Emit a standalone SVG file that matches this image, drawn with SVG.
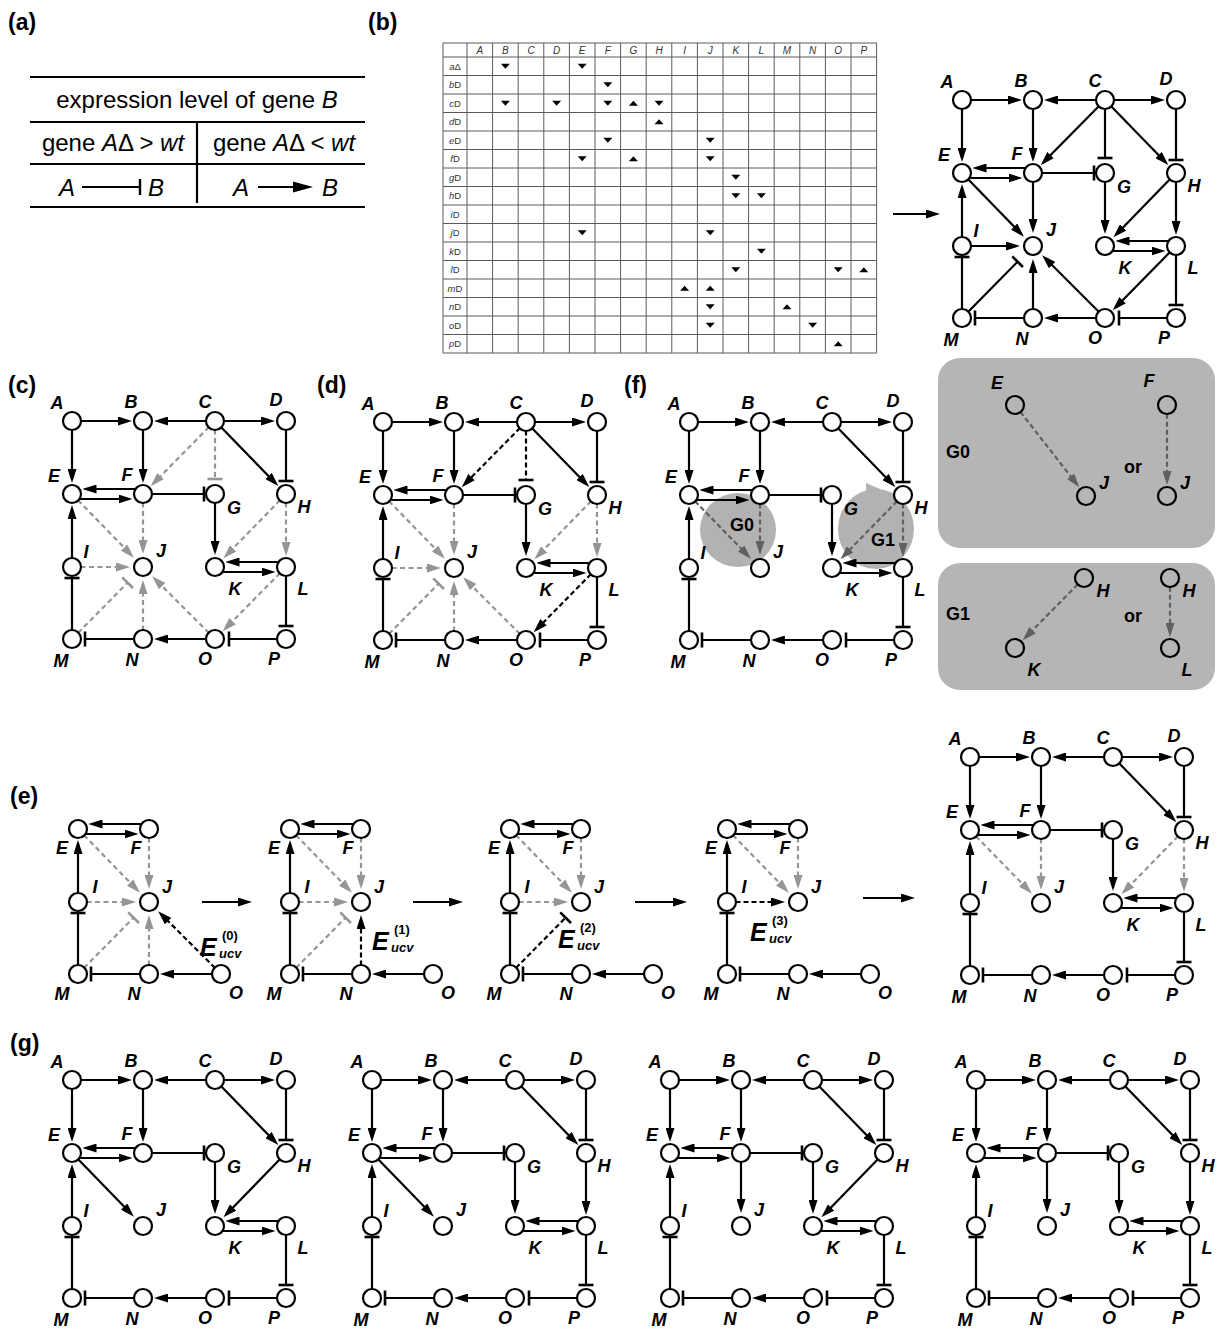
<svg xmlns="http://www.w3.org/2000/svg" width="1218" height="1329" viewBox="0 0 1218 1329">
<style>
text{font-family:"Liberation Sans",Arial,sans-serif;fill:#000}
.pl{font-size:23px;font-weight:bold}
.node circle{fill:#fff;stroke:#000;stroke-width:2.2}
.node text{font-size:18px;font-weight:bold;font-style:italic;text-anchor:middle}
.bx .node circle{fill:none}
.e line{stroke:#000;stroke-width:2.2;fill:none}
.e line.g{stroke:#959595;stroke-dasharray:5 3.5}
.e line.k{stroke-dasharray:5 3}
.e line.f{stroke:#606060;stroke-dasharray:5 3}
.tb{font-size:24px}
.rule{stroke:#000;stroke-width:2.2}
.grid{stroke:#5a5a5a;stroke-width:1;fill:none}
.ch{font-size:10px;font-style:italic;text-anchor:middle;fill:#333}
.rh{font-size:9.5px;text-anchor:middle;fill:#333}
.gl{font-size:18px;font-weight:bold;text-anchor:middle}
.eu{font-size:25px;font-weight:bold;font-style:italic}
.sup{font-size:13px;font-weight:bold}
.sub{font-size:13px;font-weight:bold;font-style:italic}
</style>
<defs>
<marker id="a" viewBox="0 0 14 9" refX="10" refY="4.5" markerWidth="14" markerHeight="9" markerUnits="userSpaceOnUse" orient="auto"><path d="M0,0L14,4.5L0,9z"/></marker>
<marker id="ag" viewBox="0 0 14 9" refX="10" refY="4.5" markerWidth="14" markerHeight="9" markerUnits="userSpaceOnUse" orient="auto"><path d="M0,0L14,4.5L0,9z" fill="#959595"/></marker>
<marker id="af" viewBox="0 0 14 9" refX="10" refY="4.5" markerWidth="14" markerHeight="9" markerUnits="userSpaceOnUse" orient="auto"><path d="M0,0L14,4.5L0,9z" fill="#606060"/></marker>
<marker id="t" viewBox="-2 -8 4 16" refX="0" refY="0" markerWidth="4" markerHeight="16" markerUnits="userSpaceOnUse" orient="auto"><rect x="-1.3" y="-7.5" width="2.6" height="15"/></marker>
<marker id="tg" viewBox="-2 -8 4 16" refX="0" refY="0" markerWidth="4" markerHeight="16" markerUnits="userSpaceOnUse" orient="auto"><rect x="-1.3" y="-7.5" width="2.6" height="15" fill="#959595"/></marker>
<path id="dn" d="M-4.5,-2.5H4.5L0,2.5z"/>
<path id="up" d="M-4.5,2.5H4.5L0,-2.5z"/>
</defs>
<rect width="1218" height="1329" fill="#fff"/>

<!-- panel labels -->
<text class="pl" x="8" y="30">(a)</text>
<text class="pl" x="368" y="30">(b)</text>
<text class="pl" x="8" y="393">(c)</text>
<text class="pl" x="317" y="393">(d)</text>
<text class="pl" x="624" y="393">(f)</text>
<text class="pl" x="10" y="804">(e)</text>
<text class="pl" x="10" y="1051">(g)</text>

<!-- (a) rule table -->
<g id="rule-table">
<line class="rule" x1="30" y1="77" x2="365" y2="77"/>
<line class="rule" x1="30" y1="122" x2="365" y2="122"/>
<line class="rule" x1="30" y1="164" x2="365" y2="164"/>
<line class="rule" x1="30" y1="207" x2="365" y2="207"/>
<line class="rule" x1="197" y1="122" x2="197" y2="203"/>
<text class="tb" x="197" y="108" text-anchor="middle">expression level of gene <tspan font-style="italic">B</tspan></text>
<text class="tb" x="113" y="151" text-anchor="middle">gene <tspan font-style="italic">A</tspan>Δ &gt; <tspan font-style="italic">wt</tspan></text>
<text class="tb" x="284" y="151" text-anchor="middle">gene <tspan font-style="italic">A</tspan>Δ &lt; <tspan font-style="italic">wt</tspan></text>
<text class="tb" x="67" y="196" text-anchor="middle" font-style="italic">A</text>
<line x1="82" y1="187" x2="140" y2="187" stroke="#000" stroke-width="2"/>
<line x1="140" y1="179" x2="140" y2="195" stroke="#000" stroke-width="2.4"/>
<text class="tb" x="156" y="196" text-anchor="middle" font-style="italic">B</text>
<text class="tb" x="241" y="196" text-anchor="middle" font-style="italic">A</text>
<line x1="258" y1="187" x2="296" y2="187" stroke="#000" stroke-width="2"/>
<path d="M293,181.5L313,187L293,192.5z"/>
<text class="tb" x="330" y="196" text-anchor="middle" font-style="italic">B</text>
</g>

<!-- (b) knockout response table -->
<g id="ko-table">
<path class="grid" d="M443,43V353M467,43V353M492.6,43V353M518.2,43V353M543.8,43V353M569.4,43V353M595,43V353M620.6,43V353M646.2,43V353M671.8,43V353M697.4,43V353M723,43V353M748.6,43V353M774.2,43V353M799.8,43V353M825.4,43V353M851,43V353M876.6,43V353"/>
<path class="grid" d="M443,43H876.6M443,57H876.6M443,75.5H876.6M443,94H876.6M443,112.5H876.6M443,131H876.6M443,149.5H876.6M443,168H876.6M443,186.5H876.6M443,205H876.6M443,223.5H876.6M443,242H876.6M443,260.5H876.6M443,279H876.6M443,297.5H876.6M443,316H876.6M443,334.5H876.6M443,353H876.6"/>
<text class="ch" x="479.8" y="54">A</text><text class="ch" x="505.4" y="54">B</text><text class="ch" x="531" y="54">C</text><text class="ch" x="556.6" y="54">D</text>
<text class="ch" x="582.2" y="54">E</text><text class="ch" x="607.8" y="54">F</text><text class="ch" x="633.4" y="54">G</text><text class="ch" x="659" y="54">H</text>
<text class="ch" x="684.6" y="54">I</text><text class="ch" x="710.2" y="54">J</text><text class="ch" x="735.8" y="54">K</text><text class="ch" x="761.4" y="54">L</text>
<text class="ch" x="787" y="54">M</text><text class="ch" x="812.6" y="54">N</text><text class="ch" x="838.2" y="54">O</text><text class="ch" x="863.8" y="54">P</text>
<text class="rh" x="455" y="69.6"><tspan font-style="italic">a</tspan>Δ</text>
<text class="rh" x="455" y="88.1"><tspan font-style="italic">b</tspan>D</text>
<text class="rh" x="455" y="106.6"><tspan font-style="italic">c</tspan>D</text>
<text class="rh" x="455" y="125.1"><tspan font-style="italic">d</tspan>D</text>
<text class="rh" x="455" y="143.6"><tspan font-style="italic">e</tspan>D</text>
<text class="rh" x="455" y="162.1"><tspan font-style="italic">f</tspan>D</text>
<text class="rh" x="455" y="180.6"><tspan font-style="italic">g</tspan>D</text>
<text class="rh" x="455" y="199.1"><tspan font-style="italic">h</tspan>D</text>
<text class="rh" x="455" y="217.6"><tspan font-style="italic">i</tspan>D</text>
<text class="rh" x="455" y="236.1"><tspan font-style="italic">j</tspan>D</text>
<text class="rh" x="455" y="254.6"><tspan font-style="italic">k</tspan>D</text>
<text class="rh" x="455" y="273.1"><tspan font-style="italic">l</tspan>D</text>
<text class="rh" x="455" y="291.6"><tspan font-style="italic">m</tspan>D</text>
<text class="rh" x="455" y="310.1"><tspan font-style="italic">n</tspan>D</text>
<text class="rh" x="455" y="328.6"><tspan font-style="italic">o</tspan>D</text>
<text class="rh" x="455" y="347.1"><tspan font-style="italic">p</tspan>D</text>
<use href="#dn" x="505.4" y="66.25"/><use href="#dn" x="582.2" y="66.25"/>
<use href="#dn" x="607.8" y="84.75"/>
<use href="#dn" x="505.4" y="103.25"/><use href="#dn" x="556.6" y="103.25"/><use href="#dn" x="607.8" y="103.25"/><use href="#up" x="633.4" y="103.25"/><use href="#dn" x="659" y="103.25"/>
<use href="#up" x="659" y="121.75"/>
<use href="#dn" x="607.8" y="140.25"/><use href="#dn" x="710.2" y="140.25"/>
<use href="#dn" x="582.2" y="158.75"/><use href="#up" x="633.4" y="158.75"/><use href="#dn" x="710.2" y="158.75"/>
<use href="#dn" x="735.8" y="177.25"/>
<use href="#dn" x="735.8" y="195.75"/><use href="#dn" x="761.4" y="195.75"/>
<use href="#dn" x="582.2" y="232.75"/><use href="#dn" x="710.2" y="232.75"/>
<use href="#dn" x="761.4" y="251.25"/>
<use href="#dn" x="735.8" y="269.75"/><use href="#dn" x="838.2" y="269.75"/><use href="#up" x="863.8" y="269.75"/>
<use href="#up" x="684.6" y="288.25"/><use href="#up" x="710.2" y="288.25"/>
<use href="#dn" x="710.2" y="306.75"/><use href="#up" x="787" y="306.75"/>
<use href="#dn" x="710.2" y="325.25"/><use href="#dn" x="812.6" y="325.25"/>
<use href="#up" x="838.2" y="343.75"/>
</g>
<g class="e" id="step-arrows">
<line x1="893" y1="214" x2="936" y2="214" marker-end="url(#a)"/>
<line x1="202" y1="902" x2="248" y2="902" marker-end="url(#a)"/>
<line x1="413" y1="902" x2="459" y2="902" marker-end="url(#a)"/>
<line x1="635" y1="902" x2="683" y2="902" marker-end="url(#a)"/>
<line x1="863" y1="898" x2="911" y2="898" marker-end="url(#a)"/>
</g>

<!-- (b) inferred network -->
<g class="e" id="b-edges" transform="translate(962,100)">
<line x1="9" y1="0" x2="56" y2="0" marker-end="url(#a)"/>
<line x1="134.5" y1="0" x2="86" y2="0" marker-end="url(#a)"/>
<line x1="151.5" y1="0" x2="199" y2="0" marker-end="url(#a)"/>
<line x1="0" y1="8.5" x2="0" y2="58" marker-end="url(#a)"/>
<line x1="71" y1="8.5" x2="71" y2="58" marker-end="url(#a)"/>
<line x1="137" y1="6" x2="81.5" y2="62.3" marker-end="url(#a)"/>
<line x1="143" y1="8.5" x2="143" y2="58" marker-end="url(#t)"/>
<line x1="148.9" y1="6.1" x2="203.5" y2="62.2" marker-end="url(#a)"/>
<line x1="214" y1="8.5" x2="214" y2="60" marker-end="url(#t)"/>
<line x1="64.1" y1="68" x2="14.5" y2="68" marker-end="url(#a)"/>
<line x1="6.9" y1="78" x2="56.5" y2="78" marker-end="url(#a)"/>
<line x1="79.5" y1="73" x2="132" y2="73" marker-end="url(#t)"/>
<line x1="5.9" y1="79.1" x2="59.1" y2="133.8" marker-end="url(#a)"/>
<line x1="71" y1="81.5" x2="71" y2="129" marker-end="url(#a)"/>
<line x1="143" y1="81.5" x2="143" y2="130" marker-end="url(#a)"/>
<line x1="208.1" y1="79.1" x2="154.2" y2="134.5" marker-end="url(#a)"/>
<line x1="214" y1="81.5" x2="214" y2="131" marker-end="url(#a)"/>
<line x1="0" y1="137.5" x2="0" y2="88" marker-end="url(#a)"/>
<line x1="8.5" y1="146" x2="54" y2="146" marker-end="url(#a)"/>
<line x1="207.1" y1="141" x2="157.5" y2="141" marker-end="url(#a)"/>
<line x1="149.9" y1="151" x2="199.5" y2="151" marker-end="url(#a)"/>
<line x1="0" y1="209.5" x2="0" y2="157" marker-end="url(#t)"/>
<line x1="6" y1="211.9" x2="55.6" y2="161.7" marker-end="url(#t)"/>
<line x1="71" y1="209.5" x2="71" y2="163" marker-end="url(#a)"/>
<line x1="137" y1="212" x2="83" y2="158" marker-end="url(#a)"/>
<line x1="208" y1="152.1" x2="153.5" y2="207.4" marker-end="url(#a)"/>
<line x1="214" y1="154.5" x2="214" y2="205" marker-end="url(#t)"/>
<line x1="62.5" y1="218" x2="13" y2="218" marker-end="url(#t)"/>
<line x1="134.5" y1="218" x2="86" y2="218" marker-end="url(#a)"/>
<line x1="205.5" y1="218" x2="157" y2="218" marker-end="url(#t)"/>
</g>
<g id="b-nodes" transform="translate(962,100)">
<g id="b-A" class="node"><circle cx="0" cy="0" r="9"/><text x="-15" y="-12">A</text></g>
<g id="b-B" class="node"><circle cx="71" cy="0" r="9"/><text x="59" y="-13">B</text></g>
<g id="b-C" class="node"><circle cx="143" cy="0" r="9"/><text x="133" y="-13">C</text></g>
<g id="b-D" class="node"><circle cx="214" cy="0" r="9"/><text x="204" y="-15">D</text></g>
<g id="b-E" class="node"><circle cx="0" cy="73" r="9"/><text x="-18" y="61">E</text></g>
<g id="b-F" class="node"><circle cx="71" cy="73" r="9"/><text x="55" y="60">F</text></g>
<g id="b-G" class="node"><circle cx="143" cy="73" r="9"/><text x="162" y="93">G</text></g>
<g id="b-H" class="node"><circle cx="214" cy="73" r="9"/><text x="232" y="92">H</text></g>
<g id="b-I" class="node"><circle cx="0" cy="146" r="9"/><text x="14" y="137">I</text></g>
<g id="b-J" class="node"><circle cx="71" cy="146" r="9"/><text x="89" y="136">J</text></g>
<g id="b-K" class="node"><circle cx="143" cy="146" r="9"/><text x="163" y="174">K</text></g>
<g id="b-L" class="node"><circle cx="214" cy="146" r="9"/><text x="231" y="174">L</text></g>
<g id="b-M" class="node"><circle cx="0" cy="218" r="9"/><text x="-11" y="246">M</text></g>
<g id="b-N" class="node"><circle cx="71" cy="218" r="9"/><text x="60" y="245">N</text></g>
<g id="b-O" class="node"><circle cx="143" cy="218" r="9"/><text x="133" y="244">O</text></g>
<g id="b-P" class="node"><circle cx="214" cy="218" r="9"/><text x="202" y="244">P</text></g>
</g>

<!-- (c) candidate edges in grey -->
<g class="e" id="c-edges" transform="translate(72,421)">
<line x1="9" y1="0" x2="56" y2="0" marker-end="url(#a)"/>
<line x1="134.5" y1="0" x2="86" y2="0" marker-end="url(#a)"/>
<line x1="151.5" y1="0" x2="199" y2="0" marker-end="url(#a)"/>
<line x1="0" y1="8.5" x2="0" y2="58" marker-end="url(#a)"/>
<line x1="71" y1="8.5" x2="71" y2="58" marker-end="url(#a)"/>
<line x1="148.9" y1="6.1" x2="203.5" y2="62.2" marker-end="url(#a)"/>
<line x1="214" y1="8.5" x2="214" y2="60" marker-end="url(#t)"/>
<line x1="64.1" y1="68" x2="14.5" y2="68" marker-end="url(#a)"/>
<line x1="6.9" y1="78" x2="56.5" y2="78" marker-end="url(#a)"/>
<line x1="79.5" y1="73" x2="132" y2="73" marker-end="url(#t)"/>
<line x1="143" y1="81.5" x2="143" y2="130" marker-end="url(#a)"/>
<line x1="0" y1="137.5" x2="0" y2="88" marker-end="url(#a)"/>
<line x1="207.1" y1="141" x2="157.5" y2="141" marker-end="url(#a)"/>
<line x1="149.9" y1="151" x2="199.5" y2="151" marker-end="url(#a)"/>
<line x1="0" y1="209.5" x2="0" y2="157" marker-end="url(#t)"/>
<line x1="214" y1="154.5" x2="214" y2="205" marker-end="url(#t)"/>
<line x1="62.5" y1="218" x2="13" y2="218" marker-end="url(#t)"/>
<line x1="134.5" y1="218" x2="86" y2="218" marker-end="url(#a)"/>
<line x1="205.5" y1="218" x2="157" y2="218" marker-end="url(#t)"/>
<line class="g" x1="137" y1="6" x2="81.5" y2="62.3" marker-end="url(#ag)"/>
<line class="g" x1="143" y1="8.5" x2="143" y2="58" marker-end="url(#tg)"/>
<line class="g" x1="5.9" y1="79.1" x2="59.1" y2="133.8" marker-end="url(#ag)"/>
<line class="g" x1="71" y1="81.5" x2="71" y2="129" marker-end="url(#ag)"/>
<line class="g" x1="208.1" y1="79.1" x2="154.2" y2="134.5" marker-end="url(#ag)"/>
<line class="g" x1="214" y1="81.5" x2="214" y2="131" marker-end="url(#ag)"/>
<line class="g" x1="8.5" y1="146" x2="54" y2="146" marker-end="url(#ag)"/>
<line class="g" x1="6" y1="211.9" x2="55.6" y2="161.7" marker-end="url(#tg)"/>
<line class="g" x1="71" y1="209.5" x2="71" y2="163" marker-end="url(#ag)"/>
<line class="g" x1="137" y1="212" x2="83" y2="158" marker-end="url(#ag)"/>
<line class="g" x1="208" y1="152.1" x2="153.5" y2="207.4" marker-end="url(#ag)"/>
</g>
<g id="c-nodes" transform="translate(72,421)">
<g id="c-A" class="node"><circle cx="0" cy="0" r="9"/><text x="-15" y="-12">A</text></g>
<g id="c-B" class="node"><circle cx="71" cy="0" r="9"/><text x="59" y="-13">B</text></g>
<g id="c-C" class="node"><circle cx="143" cy="0" r="9"/><text x="133" y="-13">C</text></g>
<g id="c-D" class="node"><circle cx="214" cy="0" r="9"/><text x="204" y="-15">D</text></g>
<g id="c-E" class="node"><circle cx="0" cy="73" r="9"/><text x="-18" y="61">E</text></g>
<g id="c-F" class="node"><circle cx="71" cy="73" r="9"/><text x="55" y="60">F</text></g>
<g id="c-G" class="node"><circle cx="143" cy="73" r="9"/><text x="162" y="93">G</text></g>
<g id="c-H" class="node"><circle cx="214" cy="73" r="9"/><text x="232" y="92">H</text></g>
<g id="c-I" class="node"><circle cx="0" cy="146" r="9"/><text x="14" y="137">I</text></g>
<g id="c-J" class="node"><circle cx="71" cy="146" r="9"/><text x="89" y="136">J</text></g>
<g id="c-K" class="node"><circle cx="143" cy="146" r="9"/><text x="163" y="174">K</text></g>
<g id="c-L" class="node"><circle cx="214" cy="146" r="9"/><text x="231" y="174">L</text></g>
<g id="c-M" class="node"><circle cx="0" cy="218" r="9"/><text x="-11" y="246">M</text></g>
<g id="c-N" class="node"><circle cx="71" cy="218" r="9"/><text x="60" y="245">N</text></g>
<g id="c-O" class="node"><circle cx="143" cy="218" r="9"/><text x="133" y="244">O</text></g>
<g id="c-P" class="node"><circle cx="214" cy="218" r="9"/><text x="202" y="244">P</text></g>
</g>

<!-- (d) -->
<g class="e" id="d-edges" transform="translate(383,422)">
<line x1="9" y1="0" x2="56" y2="0" marker-end="url(#a)"/>
<line x1="134.5" y1="0" x2="86" y2="0" marker-end="url(#a)"/>
<line x1="151.5" y1="0" x2="199" y2="0" marker-end="url(#a)"/>
<line x1="0" y1="8.5" x2="0" y2="58" marker-end="url(#a)"/>
<line x1="71" y1="8.5" x2="71" y2="58" marker-end="url(#a)"/>
<line x1="148.9" y1="6.1" x2="203.5" y2="62.2" marker-end="url(#a)"/>
<line x1="214" y1="8.5" x2="214" y2="60" marker-end="url(#t)"/>
<line x1="64.1" y1="68" x2="14.5" y2="68" marker-end="url(#a)"/>
<line x1="6.9" y1="78" x2="56.5" y2="78" marker-end="url(#a)"/>
<line x1="79.5" y1="73" x2="132" y2="73" marker-end="url(#t)"/>
<line x1="143" y1="81.5" x2="143" y2="130" marker-end="url(#a)"/>
<line x1="0" y1="137.5" x2="0" y2="88" marker-end="url(#a)"/>
<line x1="207.1" y1="141" x2="157.5" y2="141" marker-end="url(#a)"/>
<line x1="149.9" y1="151" x2="199.5" y2="151" marker-end="url(#a)"/>
<line x1="0" y1="209.5" x2="0" y2="157" marker-end="url(#t)"/>
<line x1="214" y1="154.5" x2="214" y2="205" marker-end="url(#t)"/>
<line x1="62.5" y1="218" x2="13" y2="218" marker-end="url(#t)"/>
<line x1="134.5" y1="218" x2="86" y2="218" marker-end="url(#a)"/>
<line x1="205.5" y1="218" x2="157" y2="218" marker-end="url(#t)"/>
<line class="k" x1="137" y1="6" x2="81.5" y2="62.3" marker-end="url(#a)"/>
<line class="k" x1="143" y1="8.5" x2="143" y2="58" marker-end="url(#t)"/>
<line class="k" x1="208" y1="152.1" x2="153.5" y2="207.4" marker-end="url(#a)"/>
<line class="g" x1="5.9" y1="79.1" x2="59.1" y2="133.8" marker-end="url(#ag)"/>
<line class="g" x1="71" y1="81.5" x2="71" y2="129" marker-end="url(#ag)"/>
<line class="g" x1="208.1" y1="79.1" x2="154.2" y2="134.5" marker-end="url(#ag)"/>
<line class="g" x1="214" y1="81.5" x2="214" y2="131" marker-end="url(#ag)"/>
<line class="g" x1="8.5" y1="146" x2="54" y2="146" marker-end="url(#ag)"/>
<line class="g" x1="6" y1="211.9" x2="55.6" y2="161.7" marker-end="url(#tg)"/>
<line class="g" x1="71" y1="209.5" x2="71" y2="163" marker-end="url(#ag)"/>
<line class="g" x1="137" y1="212" x2="83" y2="158" marker-end="url(#ag)"/>
</g>
<g id="d-nodes" transform="translate(383,422)">
<g id="d-A" class="node"><circle cx="0" cy="0" r="9"/><text x="-15" y="-12">A</text></g>
<g id="d-B" class="node"><circle cx="71" cy="0" r="9"/><text x="59" y="-13">B</text></g>
<g id="d-C" class="node"><circle cx="143" cy="0" r="9"/><text x="133" y="-13">C</text></g>
<g id="d-D" class="node"><circle cx="214" cy="0" r="9"/><text x="204" y="-15">D</text></g>
<g id="d-E" class="node"><circle cx="0" cy="73" r="9"/><text x="-18" y="61">E</text></g>
<g id="d-F" class="node"><circle cx="71" cy="73" r="9"/><text x="55" y="60">F</text></g>
<g id="d-G" class="node"><circle cx="143" cy="73" r="9"/><text x="162" y="93">G</text></g>
<g id="d-H" class="node"><circle cx="214" cy="73" r="9"/><text x="232" y="92">H</text></g>
<g id="d-I" class="node"><circle cx="0" cy="146" r="9"/><text x="14" y="137">I</text></g>
<g id="d-J" class="node"><circle cx="71" cy="146" r="9"/><text x="89" y="136">J</text></g>
<g id="d-K" class="node"><circle cx="143" cy="146" r="9"/><text x="163" y="174">K</text></g>
<g id="d-L" class="node"><circle cx="214" cy="146" r="9"/><text x="231" y="174">L</text></g>
<g id="d-M" class="node"><circle cx="0" cy="218" r="9"/><text x="-11" y="246">M</text></g>
<g id="d-N" class="node"><circle cx="71" cy="218" r="9"/><text x="60" y="245">N</text></g>
<g id="d-O" class="node"><circle cx="143" cy="218" r="9"/><text x="133" y="244">O</text></g>
<g id="d-P" class="node"><circle cx="214" cy="218" r="9"/><text x="202" y="244">P</text></g>
</g>

<!-- (f) network with ambiguous groups G0, G1 -->
<g id="f-groups" transform="translate(689,422)" fill="#b2b2b2">
<ellipse cx="49" cy="108" rx="38" ry="37"/>
<ellipse cx="187" cy="107" rx="38" ry="40"/>
<path d="M177,61L192,67.5L177,73z"/>
</g>
<g class="e" id="f-edges" transform="translate(689,422)">
<line x1="9" y1="0" x2="56" y2="0" marker-end="url(#a)"/>
<line x1="134.5" y1="0" x2="86" y2="0" marker-end="url(#a)"/>
<line x1="151.5" y1="0" x2="199" y2="0" marker-end="url(#a)"/>
<line x1="0" y1="8.5" x2="0" y2="58" marker-end="url(#a)"/>
<line x1="71" y1="8.5" x2="71" y2="58" marker-end="url(#a)"/>
<line x1="148.9" y1="6.1" x2="203.5" y2="62.2" marker-end="url(#a)"/>
<line x1="214" y1="8.5" x2="214" y2="60" marker-end="url(#t)"/>
<line x1="64.1" y1="68" x2="14.5" y2="68" marker-end="url(#a)"/>
<line x1="6.9" y1="78" x2="56.5" y2="78" marker-end="url(#a)"/>
<line x1="79.5" y1="73" x2="132" y2="73" marker-end="url(#t)"/>
<line x1="143" y1="81.5" x2="143" y2="130" marker-end="url(#a)"/>
<line x1="0" y1="137.5" x2="0" y2="88" marker-end="url(#a)"/>
<line x1="207.1" y1="141" x2="157.5" y2="141" marker-end="url(#a)"/>
<line x1="149.9" y1="151" x2="199.5" y2="151" marker-end="url(#a)"/>
<line x1="0" y1="209.5" x2="0" y2="157" marker-end="url(#t)"/>
<line x1="214" y1="154.5" x2="214" y2="205" marker-end="url(#t)"/>
<line x1="62.5" y1="218" x2="13" y2="218" marker-end="url(#t)"/>
<line x1="134.5" y1="218" x2="86" y2="218" marker-end="url(#a)"/>
<line x1="205.5" y1="218" x2="157" y2="218" marker-end="url(#t)"/>
<line class="f" x1="5.9" y1="79.1" x2="59.1" y2="133.8" marker-end="url(#af)"/>
<line class="f" x1="71" y1="81.5" x2="71" y2="129" marker-end="url(#af)"/>
<line class="f" x1="208.1" y1="79.1" x2="154.2" y2="134.5" marker-end="url(#af)"/>
<line class="f" x1="214" y1="81.5" x2="214" y2="131" marker-end="url(#af)"/>
</g>
<g id="f-group-labels" transform="translate(689,422)">
<text class="gl" x="53" y="109">G0</text>
<text class="gl" x="194" y="124">G1</text>
</g>
<g id="f-nodes" transform="translate(689,422)">
<g id="f-A" class="node"><circle cx="0" cy="0" r="9"/><text x="-15" y="-12">A</text></g>
<g id="f-B" class="node"><circle cx="71" cy="0" r="9"/><text x="59" y="-13">B</text></g>
<g id="f-C" class="node"><circle cx="143" cy="0" r="9"/><text x="133" y="-13">C</text></g>
<g id="f-D" class="node"><circle cx="214" cy="0" r="9"/><text x="204" y="-15">D</text></g>
<g id="f-E" class="node"><circle cx="0" cy="73" r="9"/><text x="-18" y="61">E</text></g>
<g id="f-F" class="node"><circle cx="71" cy="73" r="9"/><text x="55" y="60">F</text></g>
<g id="f-G" class="node"><circle cx="143" cy="73" r="9"/><text x="162" y="93">G</text></g>
<g id="f-H" class="node"><circle cx="214" cy="73" r="9"/><text x="232" y="92">H</text></g>
<g id="f-I" class="node"><circle cx="0" cy="146" r="9"/><text x="14" y="137">I</text></g>
<g id="f-J" class="node"><circle cx="71" cy="146" r="9"/><text x="89" y="136">J</text></g>
<g id="f-K" class="node"><circle cx="143" cy="146" r="9"/><text x="163" y="174">K</text></g>
<g id="f-L" class="node"><circle cx="214" cy="146" r="9"/><text x="231" y="174">L</text></g>
<g id="f-M" class="node"><circle cx="0" cy="218" r="9"/><text x="-11" y="246">M</text></g>
<g id="f-N" class="node"><circle cx="71" cy="218" r="9"/><text x="60" y="245">N</text></g>
<g id="f-O" class="node"><circle cx="143" cy="218" r="9"/><text x="133" y="244">O</text></g>
<g id="f-P" class="node"><circle cx="214" cy="218" r="9"/><text x="202" y="244">P</text></g>
</g>

<!-- (f) group alternatives -->
<g class="bx" id="g0-box">
<rect x="938" y="358" width="277" height="190" rx="22" fill="#b5b5b5"/>
<text class="gl" x="958" y="458">G0</text>
<text class="gl" x="1133" y="473">or</text>
<g class="e"><line class="f" x1="1020.4" y1="411.9" x2="1076.8" y2="484.1" marker-end="url(#af)"/><line class="f" x1="1167" y1="413.8" x2="1167" y2="481" marker-end="url(#af)"/></g>
<g id="g0-E" class="node"><circle cx="1015" cy="405" r="9"/><text x="997" y="389">E</text></g>
<g id="g0-J1" class="node"><circle cx="1086" cy="496" r="9"/><text x="1104" y="489">J</text></g>
<g id="g0-F" class="node"><circle cx="1167" cy="405" r="9"/><text x="1149" y="387">F</text></g>
<g id="g0-J2" class="node"><circle cx="1167" cy="496" r="9"/><text x="1185" y="489">J</text></g>
</g>
<g class="bx" id="g1-box">
<rect x="938" y="563" width="277" height="127" rx="22" fill="#b5b5b5"/>
<text class="gl" x="958" y="620">G1</text>
<text class="gl" x="1133" y="622">or</text>
<g class="e"><line class="f" x1="1077.8" y1="584.3" x2="1025.5" y2="637.4" marker-end="url(#af)"/><line class="f" x1="1170" y1="586.8" x2="1170" y2="633" marker-end="url(#af)"/></g>
<g id="g1-H1" class="node"><circle cx="1084" cy="578" r="9"/><text x="1103" y="597">H</text></g>
<g id="g1-K" class="node"><circle cx="1015" cy="648" r="9"/><text x="1034" y="676">K</text></g>
<g id="g1-H2" class="node"><circle cx="1170" cy="578" r="9"/><text x="1189" y="597">H</text></g>
<g id="g1-L" class="node"><circle cx="1170" cy="648" r="9"/><text x="1187" y="676">L</text></g>
</g>

<!-- (e) step 0 -->
<g class="e" id="e1-edges" transform="translate(78,756)">
<line x1="64.1" y1="68" x2="14.5" y2="68" marker-end="url(#a)"/>
<line x1="6.9" y1="78" x2="56.5" y2="78" marker-end="url(#a)"/>
<line x1="0" y1="137.5" x2="0" y2="88" marker-end="url(#a)"/>
<line x1="0" y1="209.5" x2="0" y2="157" marker-end="url(#t)"/>
<line x1="62.5" y1="218" x2="13" y2="218" marker-end="url(#t)"/>
<line x1="134.5" y1="218" x2="86" y2="218" marker-end="url(#a)"/>
<line class="g" x1="5.9" y1="79.1" x2="59.1" y2="133.8" marker-end="url(#ag)"/>
<line class="g" x1="71" y1="81.5" x2="71" y2="129" marker-end="url(#ag)"/>
<line class="g" x1="8.5" y1="146" x2="54" y2="146" marker-end="url(#ag)"/>
<line class="g" x1="6" y1="211.9" x2="55.6" y2="161.7" marker-end="url(#tg)"/>
<line class="g" x1="71" y1="209.5" x2="71" y2="163" marker-end="url(#ag)"/>
<line class="k" x1="137" y1="212" x2="83" y2="158" marker-end="url(#a)"/>
</g>
<g id="e1-nodes" transform="translate(78,756)">
<g id="e1-E" class="node"><circle cx="0" cy="73" r="9"/><text x="-16" y="98">E</text></g>
<g id="e1-F" class="node"><circle cx="71" cy="73" r="9"/><text x="58" y="98">F</text></g>
<g id="e1-I" class="node"><circle cx="0" cy="146" r="9"/><text x="17" y="137">I</text></g>
<g id="e1-J" class="node"><circle cx="71" cy="146" r="9"/><text x="89" y="137">J</text></g>
<g id="e1-M" class="node"><circle cx="0" cy="218" r="9"/><text x="-16" y="244">M</text></g>
<g id="e1-N" class="node"><circle cx="71" cy="218" r="9"/><text x="56" y="244">N</text></g>
<g id="e1-O" class="node"><circle cx="143" cy="218" r="9"/><text x="158" y="243">O</text></g>
</g>
<g id="e1-label"><text class="eu" x="200" y="956">E</text><text class="sup" x="222" y="940">(0)</text><text class="sub" x="219" y="958">ucv</text></g>

<!-- (e) step 1 -->
<g class="e" id="e2-edges" transform="translate(290,756)">
<line x1="64.1" y1="68" x2="14.5" y2="68" marker-end="url(#a)"/>
<line x1="6.9" y1="78" x2="56.5" y2="78" marker-end="url(#a)"/>
<line x1="0" y1="137.5" x2="0" y2="88" marker-end="url(#a)"/>
<line x1="0" y1="209.5" x2="0" y2="157" marker-end="url(#t)"/>
<line x1="62.5" y1="218" x2="13" y2="218" marker-end="url(#t)"/>
<line x1="134.5" y1="218" x2="86" y2="218" marker-end="url(#a)"/>
<line class="g" x1="5.9" y1="79.1" x2="59.1" y2="133.8" marker-end="url(#ag)"/>
<line class="g" x1="71" y1="81.5" x2="71" y2="129" marker-end="url(#ag)"/>
<line class="g" x1="8.5" y1="146" x2="54" y2="146" marker-end="url(#ag)"/>
<line class="g" x1="6" y1="211.9" x2="55.6" y2="161.7" marker-end="url(#tg)"/>
<line class="k" x1="71" y1="209.5" x2="71" y2="163" marker-end="url(#a)"/>
</g>
<g id="e2-nodes" transform="translate(290,756)">
<g id="e2-E" class="node"><circle cx="0" cy="73" r="9"/><text x="-16" y="98">E</text></g>
<g id="e2-F" class="node"><circle cx="71" cy="73" r="9"/><text x="58" y="98">F</text></g>
<g id="e2-I" class="node"><circle cx="0" cy="146" r="9"/><text x="17" y="137">I</text></g>
<g id="e2-J" class="node"><circle cx="71" cy="146" r="9"/><text x="89" y="137">J</text></g>
<g id="e2-M" class="node"><circle cx="0" cy="218" r="9"/><text x="-16" y="244">M</text></g>
<g id="e2-N" class="node"><circle cx="71" cy="218" r="9"/><text x="56" y="244">N</text></g>
<g id="e2-O" class="node"><circle cx="143" cy="218" r="9"/><text x="158" y="243">O</text></g>
</g>
<g id="e2-label"><text class="eu" x="372" y="950">E</text><text class="sup" x="394" y="934">(1)</text><text class="sub" x="391" y="952">ucv</text></g>

<!-- (e) step 2 -->
<g class="e" id="e3-edges" transform="translate(510,756)">
<line x1="64.1" y1="68" x2="14.5" y2="68" marker-end="url(#a)"/>
<line x1="6.9" y1="78" x2="56.5" y2="78" marker-end="url(#a)"/>
<line x1="0" y1="137.5" x2="0" y2="88" marker-end="url(#a)"/>
<line x1="0" y1="209.5" x2="0" y2="157" marker-end="url(#t)"/>
<line x1="62.5" y1="218" x2="13" y2="218" marker-end="url(#t)"/>
<line x1="134.5" y1="218" x2="86" y2="218" marker-end="url(#a)"/>
<line class="g" x1="5.9" y1="79.1" x2="59.1" y2="133.8" marker-end="url(#ag)"/>
<line class="g" x1="71" y1="81.5" x2="71" y2="129" marker-end="url(#ag)"/>
<line class="g" x1="8.5" y1="146" x2="54" y2="146" marker-end="url(#ag)"/>
<line class="k" x1="6" y1="211.9" x2="55.6" y2="161.7" marker-end="url(#t)"/>
</g>
<g id="e3-nodes" transform="translate(510,756)">
<g id="e3-E" class="node"><circle cx="0" cy="73" r="9"/><text x="-16" y="98">E</text></g>
<g id="e3-F" class="node"><circle cx="71" cy="73" r="9"/><text x="58" y="98">F</text></g>
<g id="e3-I" class="node"><circle cx="0" cy="146" r="9"/><text x="17" y="137">I</text></g>
<g id="e3-J" class="node"><circle cx="71" cy="146" r="9"/><text x="89" y="137">J</text></g>
<g id="e3-M" class="node"><circle cx="0" cy="218" r="9"/><text x="-16" y="244">M</text></g>
<g id="e3-N" class="node"><circle cx="71" cy="218" r="9"/><text x="56" y="244">N</text></g>
<g id="e3-O" class="node"><circle cx="143" cy="218" r="9"/><text x="158" y="243">O</text></g>
</g>
<g id="e3-label"><text class="eu" x="558" y="948">E</text><text class="sup" x="580" y="932">(2)</text><text class="sub" x="577" y="950">ucv</text></g>

<!-- (e) step 3 -->
<g class="e" id="e4-edges" transform="translate(727,756)">
<line x1="64.1" y1="68" x2="14.5" y2="68" marker-end="url(#a)"/>
<line x1="6.9" y1="78" x2="56.5" y2="78" marker-end="url(#a)"/>
<line x1="0" y1="137.5" x2="0" y2="88" marker-end="url(#a)"/>
<line x1="0" y1="209.5" x2="0" y2="157" marker-end="url(#t)"/>
<line x1="62.5" y1="218" x2="13" y2="218" marker-end="url(#t)"/>
<line x1="134.5" y1="218" x2="86" y2="218" marker-end="url(#a)"/>
<line class="g" x1="5.9" y1="79.1" x2="59.1" y2="133.8" marker-end="url(#ag)"/>
<line class="g" x1="71" y1="81.5" x2="71" y2="129" marker-end="url(#ag)"/>
<line class="k" x1="8.5" y1="146" x2="54" y2="146" marker-end="url(#a)"/>
</g>
<g id="e4-nodes" transform="translate(727,756)">
<g id="e4-E" class="node"><circle cx="0" cy="73" r="9"/><text x="-16" y="98">E</text></g>
<g id="e4-F" class="node"><circle cx="71" cy="73" r="9"/><text x="58" y="98">F</text></g>
<g id="e4-I" class="node"><circle cx="0" cy="146" r="9"/><text x="17" y="137">I</text></g>
<g id="e4-J" class="node"><circle cx="71" cy="146" r="9"/><text x="89" y="137">J</text></g>
<g id="e4-M" class="node"><circle cx="0" cy="218" r="9"/><text x="-16" y="244">M</text></g>
<g id="e4-N" class="node"><circle cx="71" cy="218" r="9"/><text x="56" y="244">N</text></g>
<g id="e4-O" class="node"><circle cx="143" cy="218" r="9"/><text x="158" y="243">O</text></g>
</g>
<g id="e4-label"><text class="eu" x="750" y="941">E</text><text class="sup" x="772" y="925">(3)</text><text class="sub" x="769" y="943">ucv</text></g>

<!-- (e) result -->
<g class="e" id="e5-edges" transform="translate(970,757)">
<line x1="9" y1="0" x2="56" y2="0" marker-end="url(#a)"/>
<line x1="134.5" y1="0" x2="86" y2="0" marker-end="url(#a)"/>
<line x1="151.5" y1="0" x2="199" y2="0" marker-end="url(#a)"/>
<line x1="0" y1="8.5" x2="0" y2="58" marker-end="url(#a)"/>
<line x1="71" y1="8.5" x2="71" y2="58" marker-end="url(#a)"/>
<line x1="148.9" y1="6.1" x2="203.5" y2="62.2" marker-end="url(#a)"/>
<line x1="214" y1="8.5" x2="214" y2="60" marker-end="url(#t)"/>
<line x1="64.1" y1="68" x2="14.5" y2="68" marker-end="url(#a)"/>
<line x1="6.9" y1="78" x2="56.5" y2="78" marker-end="url(#a)"/>
<line x1="79.5" y1="73" x2="132" y2="73" marker-end="url(#t)"/>
<line x1="143" y1="81.5" x2="143" y2="130" marker-end="url(#a)"/>
<line x1="0" y1="137.5" x2="0" y2="88" marker-end="url(#a)"/>
<line x1="207.1" y1="141" x2="157.5" y2="141" marker-end="url(#a)"/>
<line x1="149.9" y1="151" x2="199.5" y2="151" marker-end="url(#a)"/>
<line x1="0" y1="209.5" x2="0" y2="157" marker-end="url(#t)"/>
<line x1="214" y1="154.5" x2="214" y2="205" marker-end="url(#t)"/>
<line x1="62.5" y1="218" x2="13" y2="218" marker-end="url(#t)"/>
<line x1="134.5" y1="218" x2="86" y2="218" marker-end="url(#a)"/>
<line x1="205.5" y1="218" x2="157" y2="218" marker-end="url(#t)"/>
<line class="g" x1="5.9" y1="79.1" x2="59.1" y2="133.8" marker-end="url(#ag)"/>
<line class="g" x1="71" y1="81.5" x2="71" y2="129" marker-end="url(#ag)"/>
<line class="g" x1="208.1" y1="79.1" x2="154.2" y2="134.5" marker-end="url(#ag)"/>
<line class="g" x1="214" y1="81.5" x2="214" y2="131" marker-end="url(#ag)"/>
</g>
<g id="e5-nodes" transform="translate(970,757)">
<g id="e5-A" class="node"><circle cx="0" cy="0" r="9"/><text x="-15" y="-12">A</text></g>
<g id="e5-B" class="node"><circle cx="71" cy="0" r="9"/><text x="59" y="-13">B</text></g>
<g id="e5-C" class="node"><circle cx="143" cy="0" r="9"/><text x="133" y="-13">C</text></g>
<g id="e5-D" class="node"><circle cx="214" cy="0" r="9"/><text x="204" y="-15">D</text></g>
<g id="e5-E" class="node"><circle cx="0" cy="73" r="9"/><text x="-18" y="61">E</text></g>
<g id="e5-F" class="node"><circle cx="71" cy="73" r="9"/><text x="55" y="60">F</text></g>
<g id="e5-G" class="node"><circle cx="143" cy="73" r="9"/><text x="162" y="93">G</text></g>
<g id="e5-H" class="node"><circle cx="214" cy="73" r="9"/><text x="232" y="92">H</text></g>
<g id="e5-I" class="node"><circle cx="0" cy="146" r="9"/><text x="14" y="137">I</text></g>
<g id="e5-J" class="node"><circle cx="71" cy="146" r="9"/><text x="89" y="136">J</text></g>
<g id="e5-K" class="node"><circle cx="143" cy="146" r="9"/><text x="163" y="174">K</text></g>
<g id="e5-L" class="node"><circle cx="214" cy="146" r="9"/><text x="231" y="174">L</text></g>
<g id="e5-M" class="node"><circle cx="0" cy="218" r="9"/><text x="-11" y="246">M</text></g>
<g id="e5-N" class="node"><circle cx="71" cy="218" r="9"/><text x="60" y="245">N</text></g>
<g id="e5-O" class="node"><circle cx="143" cy="218" r="9"/><text x="133" y="244">O</text></g>
<g id="e5-P" class="node"><circle cx="214" cy="218" r="9"/><text x="202" y="244">P</text></g>
</g>

<!-- (g) four resolved networks -->
<g class="e" id="g1-edges" transform="translate(72,1080)">
<line x1="9" y1="0" x2="56" y2="0" marker-end="url(#a)"/>
<line x1="134.5" y1="0" x2="86" y2="0" marker-end="url(#a)"/>
<line x1="151.5" y1="0" x2="199" y2="0" marker-end="url(#a)"/>
<line x1="0" y1="8.5" x2="0" y2="58" marker-end="url(#a)"/>
<line x1="71" y1="8.5" x2="71" y2="58" marker-end="url(#a)"/>
<line x1="148.9" y1="6.1" x2="203.5" y2="62.2" marker-end="url(#a)"/>
<line x1="214" y1="8.5" x2="214" y2="60" marker-end="url(#t)"/>
<line x1="64.1" y1="68" x2="14.5" y2="68" marker-end="url(#a)"/>
<line x1="6.9" y1="78" x2="56.5" y2="78" marker-end="url(#a)"/>
<line x1="79.5" y1="73" x2="132" y2="73" marker-end="url(#t)"/>
<line x1="143" y1="81.5" x2="143" y2="130" marker-end="url(#a)"/>
<line x1="0" y1="137.5" x2="0" y2="88" marker-end="url(#a)"/>
<line x1="207.1" y1="141" x2="157.5" y2="141" marker-end="url(#a)"/>
<line x1="149.9" y1="151" x2="199.5" y2="151" marker-end="url(#a)"/>
<line x1="0" y1="209.5" x2="0" y2="157" marker-end="url(#t)"/>
<line x1="214" y1="154.5" x2="214" y2="205" marker-end="url(#t)"/>
<line x1="62.5" y1="218" x2="13" y2="218" marker-end="url(#t)"/>
<line x1="134.5" y1="218" x2="86" y2="218" marker-end="url(#a)"/>
<line x1="205.5" y1="218" x2="157" y2="218" marker-end="url(#t)"/>
<line x1="5.9" y1="79.1" x2="59.1" y2="133.8" marker-end="url(#a)"/>
<line x1="208.1" y1="79.1" x2="154.2" y2="134.5" marker-end="url(#a)"/>
</g>
<g id="g1-nodes" transform="translate(72,1080)">
<g id="g1-A" class="node"><circle cx="0" cy="0" r="9"/><text x="-15" y="-12">A</text></g>
<g id="g1-B" class="node"><circle cx="71" cy="0" r="9"/><text x="59" y="-13">B</text></g>
<g id="g1-C" class="node"><circle cx="143" cy="0" r="9"/><text x="133" y="-13">C</text></g>
<g id="g1-D" class="node"><circle cx="214" cy="0" r="9"/><text x="204" y="-15">D</text></g>
<g id="g1-E" class="node"><circle cx="0" cy="73" r="9"/><text x="-18" y="61">E</text></g>
<g id="g1-F" class="node"><circle cx="71" cy="73" r="9"/><text x="55" y="60">F</text></g>
<g id="g1-G" class="node"><circle cx="143" cy="73" r="9"/><text x="162" y="93">G</text></g>
<g id="g1-H" class="node"><circle cx="214" cy="73" r="9"/><text x="232" y="92">H</text></g>
<g id="g1-I" class="node"><circle cx="0" cy="146" r="9"/><text x="14" y="137">I</text></g>
<g id="g1-J" class="node"><circle cx="71" cy="146" r="9"/><text x="89" y="136">J</text></g>
<g id="g1-K" class="node"><circle cx="143" cy="146" r="9"/><text x="163" y="174">K</text></g>
<g id="g1-L" class="node"><circle cx="214" cy="146" r="9"/><text x="231" y="174">L</text></g>
<g id="g1-M" class="node"><circle cx="0" cy="218" r="9"/><text x="-11" y="246">M</text></g>
<g id="g1-N" class="node"><circle cx="71" cy="218" r="9"/><text x="60" y="245">N</text></g>
<g id="g1-O" class="node"><circle cx="143" cy="218" r="9"/><text x="133" y="244">O</text></g>
<g id="g1-P" class="node"><circle cx="214" cy="218" r="9"/><text x="202" y="244">P</text></g>
</g>

<g class="e" id="g2-edges" transform="translate(372,1080)">
<line x1="9" y1="0" x2="56" y2="0" marker-end="url(#a)"/>
<line x1="134.5" y1="0" x2="86" y2="0" marker-end="url(#a)"/>
<line x1="151.5" y1="0" x2="199" y2="0" marker-end="url(#a)"/>
<line x1="0" y1="8.5" x2="0" y2="58" marker-end="url(#a)"/>
<line x1="71" y1="8.5" x2="71" y2="58" marker-end="url(#a)"/>
<line x1="148.9" y1="6.1" x2="203.5" y2="62.2" marker-end="url(#a)"/>
<line x1="214" y1="8.5" x2="214" y2="60" marker-end="url(#t)"/>
<line x1="64.1" y1="68" x2="14.5" y2="68" marker-end="url(#a)"/>
<line x1="6.9" y1="78" x2="56.5" y2="78" marker-end="url(#a)"/>
<line x1="79.5" y1="73" x2="132" y2="73" marker-end="url(#t)"/>
<line x1="143" y1="81.5" x2="143" y2="130" marker-end="url(#a)"/>
<line x1="0" y1="137.5" x2="0" y2="88" marker-end="url(#a)"/>
<line x1="207.1" y1="141" x2="157.5" y2="141" marker-end="url(#a)"/>
<line x1="149.9" y1="151" x2="199.5" y2="151" marker-end="url(#a)"/>
<line x1="0" y1="209.5" x2="0" y2="157" marker-end="url(#t)"/>
<line x1="214" y1="154.5" x2="214" y2="205" marker-end="url(#t)"/>
<line x1="62.5" y1="218" x2="13" y2="218" marker-end="url(#t)"/>
<line x1="134.5" y1="218" x2="86" y2="218" marker-end="url(#a)"/>
<line x1="205.5" y1="218" x2="157" y2="218" marker-end="url(#t)"/>
<line x1="5.9" y1="79.1" x2="59.1" y2="133.8" marker-end="url(#a)"/>
<line x1="214" y1="81.5" x2="214" y2="131" marker-end="url(#a)"/>
</g>
<g id="g2-nodes" transform="translate(372,1080)">
<g id="g2-A" class="node"><circle cx="0" cy="0" r="9"/><text x="-15" y="-12">A</text></g>
<g id="g2-B" class="node"><circle cx="71" cy="0" r="9"/><text x="59" y="-13">B</text></g>
<g id="g2-C" class="node"><circle cx="143" cy="0" r="9"/><text x="133" y="-13">C</text></g>
<g id="g2-D" class="node"><circle cx="214" cy="0" r="9"/><text x="204" y="-15">D</text></g>
<g id="g2-E" class="node"><circle cx="0" cy="73" r="9"/><text x="-18" y="61">E</text></g>
<g id="g2-F" class="node"><circle cx="71" cy="73" r="9"/><text x="55" y="60">F</text></g>
<g id="g2-G" class="node"><circle cx="143" cy="73" r="9"/><text x="162" y="93">G</text></g>
<g id="g2-H" class="node"><circle cx="214" cy="73" r="9"/><text x="232" y="92">H</text></g>
<g id="g2-I" class="node"><circle cx="0" cy="146" r="9"/><text x="14" y="137">I</text></g>
<g id="g2-J" class="node"><circle cx="71" cy="146" r="9"/><text x="89" y="136">J</text></g>
<g id="g2-K" class="node"><circle cx="143" cy="146" r="9"/><text x="163" y="174">K</text></g>
<g id="g2-L" class="node"><circle cx="214" cy="146" r="9"/><text x="231" y="174">L</text></g>
<g id="g2-M" class="node"><circle cx="0" cy="218" r="9"/><text x="-11" y="246">M</text></g>
<g id="g2-N" class="node"><circle cx="71" cy="218" r="9"/><text x="60" y="245">N</text></g>
<g id="g2-O" class="node"><circle cx="143" cy="218" r="9"/><text x="133" y="244">O</text></g>
<g id="g2-P" class="node"><circle cx="214" cy="218" r="9"/><text x="202" y="244">P</text></g>
</g>

<g class="e" id="g3-edges" transform="translate(670,1080)">
<line x1="9" y1="0" x2="56" y2="0" marker-end="url(#a)"/>
<line x1="134.5" y1="0" x2="86" y2="0" marker-end="url(#a)"/>
<line x1="151.5" y1="0" x2="199" y2="0" marker-end="url(#a)"/>
<line x1="0" y1="8.5" x2="0" y2="58" marker-end="url(#a)"/>
<line x1="71" y1="8.5" x2="71" y2="58" marker-end="url(#a)"/>
<line x1="148.9" y1="6.1" x2="203.5" y2="62.2" marker-end="url(#a)"/>
<line x1="214" y1="8.5" x2="214" y2="60" marker-end="url(#t)"/>
<line x1="64.1" y1="68" x2="14.5" y2="68" marker-end="url(#a)"/>
<line x1="6.9" y1="78" x2="56.5" y2="78" marker-end="url(#a)"/>
<line x1="79.5" y1="73" x2="132" y2="73" marker-end="url(#t)"/>
<line x1="143" y1="81.5" x2="143" y2="130" marker-end="url(#a)"/>
<line x1="0" y1="137.5" x2="0" y2="88" marker-end="url(#a)"/>
<line x1="207.1" y1="141" x2="157.5" y2="141" marker-end="url(#a)"/>
<line x1="149.9" y1="151" x2="199.5" y2="151" marker-end="url(#a)"/>
<line x1="0" y1="209.5" x2="0" y2="157" marker-end="url(#t)"/>
<line x1="214" y1="154.5" x2="214" y2="205" marker-end="url(#t)"/>
<line x1="62.5" y1="218" x2="13" y2="218" marker-end="url(#t)"/>
<line x1="134.5" y1="218" x2="86" y2="218" marker-end="url(#a)"/>
<line x1="205.5" y1="218" x2="157" y2="218" marker-end="url(#t)"/>
<line x1="71" y1="81.5" x2="71" y2="129" marker-end="url(#a)"/>
<line x1="208.1" y1="79.1" x2="154.2" y2="134.5" marker-end="url(#a)"/>
</g>
<g id="g3-nodes" transform="translate(670,1080)">
<g id="g3-A" class="node"><circle cx="0" cy="0" r="9"/><text x="-15" y="-12">A</text></g>
<g id="g3-B" class="node"><circle cx="71" cy="0" r="9"/><text x="59" y="-13">B</text></g>
<g id="g3-C" class="node"><circle cx="143" cy="0" r="9"/><text x="133" y="-13">C</text></g>
<g id="g3-D" class="node"><circle cx="214" cy="0" r="9"/><text x="204" y="-15">D</text></g>
<g id="g3-E" class="node"><circle cx="0" cy="73" r="9"/><text x="-18" y="61">E</text></g>
<g id="g3-F" class="node"><circle cx="71" cy="73" r="9"/><text x="55" y="60">F</text></g>
<g id="g3-G" class="node"><circle cx="143" cy="73" r="9"/><text x="162" y="93">G</text></g>
<g id="g3-H" class="node"><circle cx="214" cy="73" r="9"/><text x="232" y="92">H</text></g>
<g id="g3-I" class="node"><circle cx="0" cy="146" r="9"/><text x="14" y="137">I</text></g>
<g id="g3-J" class="node"><circle cx="71" cy="146" r="9"/><text x="89" y="136">J</text></g>
<g id="g3-K" class="node"><circle cx="143" cy="146" r="9"/><text x="163" y="174">K</text></g>
<g id="g3-L" class="node"><circle cx="214" cy="146" r="9"/><text x="231" y="174">L</text></g>
<g id="g3-M" class="node"><circle cx="0" cy="218" r="9"/><text x="-11" y="246">M</text></g>
<g id="g3-N" class="node"><circle cx="71" cy="218" r="9"/><text x="60" y="245">N</text></g>
<g id="g3-O" class="node"><circle cx="143" cy="218" r="9"/><text x="133" y="244">O</text></g>
<g id="g3-P" class="node"><circle cx="214" cy="218" r="9"/><text x="202" y="244">P</text></g>
</g>

<g class="e" id="g4-edges" transform="translate(976,1080)">
<line x1="9" y1="0" x2="56" y2="0" marker-end="url(#a)"/>
<line x1="134.5" y1="0" x2="86" y2="0" marker-end="url(#a)"/>
<line x1="151.5" y1="0" x2="199" y2="0" marker-end="url(#a)"/>
<line x1="0" y1="8.5" x2="0" y2="58" marker-end="url(#a)"/>
<line x1="71" y1="8.5" x2="71" y2="58" marker-end="url(#a)"/>
<line x1="148.9" y1="6.1" x2="203.5" y2="62.2" marker-end="url(#a)"/>
<line x1="214" y1="8.5" x2="214" y2="60" marker-end="url(#t)"/>
<line x1="64.1" y1="68" x2="14.5" y2="68" marker-end="url(#a)"/>
<line x1="6.9" y1="78" x2="56.5" y2="78" marker-end="url(#a)"/>
<line x1="79.5" y1="73" x2="132" y2="73" marker-end="url(#t)"/>
<line x1="143" y1="81.5" x2="143" y2="130" marker-end="url(#a)"/>
<line x1="0" y1="137.5" x2="0" y2="88" marker-end="url(#a)"/>
<line x1="207.1" y1="141" x2="157.5" y2="141" marker-end="url(#a)"/>
<line x1="149.9" y1="151" x2="199.5" y2="151" marker-end="url(#a)"/>
<line x1="0" y1="209.5" x2="0" y2="157" marker-end="url(#t)"/>
<line x1="214" y1="154.5" x2="214" y2="205" marker-end="url(#t)"/>
<line x1="62.5" y1="218" x2="13" y2="218" marker-end="url(#t)"/>
<line x1="134.5" y1="218" x2="86" y2="218" marker-end="url(#a)"/>
<line x1="205.5" y1="218" x2="157" y2="218" marker-end="url(#t)"/>
<line x1="71" y1="81.5" x2="71" y2="129" marker-end="url(#a)"/>
<line x1="214" y1="81.5" x2="214" y2="131" marker-end="url(#a)"/>
</g>
<g id="g4-nodes" transform="translate(976,1080)">
<g id="g4-A" class="node"><circle cx="0" cy="0" r="9"/><text x="-15" y="-12">A</text></g>
<g id="g4-B" class="node"><circle cx="71" cy="0" r="9"/><text x="59" y="-13">B</text></g>
<g id="g4-C" class="node"><circle cx="143" cy="0" r="9"/><text x="133" y="-13">C</text></g>
<g id="g4-D" class="node"><circle cx="214" cy="0" r="9"/><text x="204" y="-15">D</text></g>
<g id="g4-E" class="node"><circle cx="0" cy="73" r="9"/><text x="-18" y="61">E</text></g>
<g id="g4-F" class="node"><circle cx="71" cy="73" r="9"/><text x="55" y="60">F</text></g>
<g id="g4-G" class="node"><circle cx="143" cy="73" r="9"/><text x="162" y="93">G</text></g>
<g id="g4-H" class="node"><circle cx="214" cy="73" r="9"/><text x="232" y="92">H</text></g>
<g id="g4-I" class="node"><circle cx="0" cy="146" r="9"/><text x="14" y="137">I</text></g>
<g id="g4-J" class="node"><circle cx="71" cy="146" r="9"/><text x="89" y="136">J</text></g>
<g id="g4-K" class="node"><circle cx="143" cy="146" r="9"/><text x="163" y="174">K</text></g>
<g id="g4-L" class="node"><circle cx="214" cy="146" r="9"/><text x="231" y="174">L</text></g>
<g id="g4-M" class="node"><circle cx="0" cy="218" r="9"/><text x="-11" y="246">M</text></g>
<g id="g4-N" class="node"><circle cx="71" cy="218" r="9"/><text x="60" y="245">N</text></g>
<g id="g4-O" class="node"><circle cx="143" cy="218" r="9"/><text x="133" y="244">O</text></g>
<g id="g4-P" class="node"><circle cx="214" cy="218" r="9"/><text x="202" y="244">P</text></g>
</g>
</svg>
